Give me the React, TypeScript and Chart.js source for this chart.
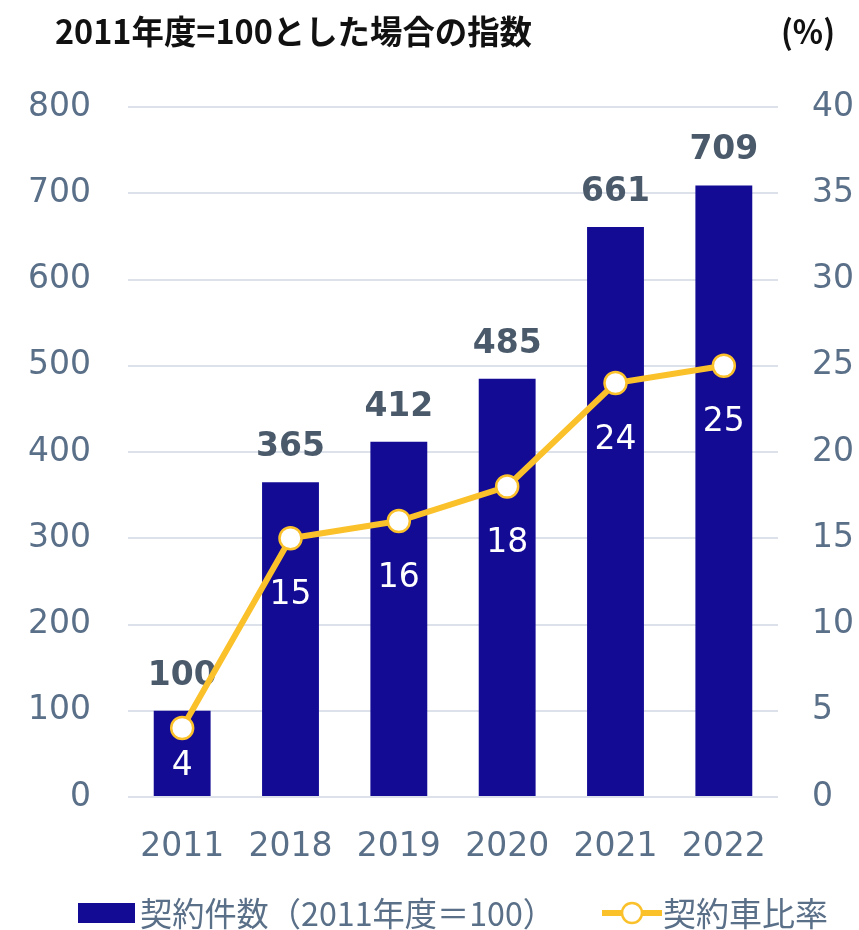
import React, { useEffect, useRef } from "react";
import { Chart, registerables } from "chart.js";

Chart.register(...registerables);

const categories = ["2011", "2018", "2019", "2020", "2021", "2022"];
const contractIndex = [100, 365, 412, 485, 661, 709];
const vehicleRatio = [4, 15, 16, 18, 24, 25];
const leftTitle = "2011年度=100とした場合の指数";
const rightTitle = "(%)";
const barLabel = "契約件数（2011年度＝100）";
const lineLabel = "契約車比率";

const NAVY = "#130B94";
const YELLOW = "#FBC12B";
const TICK = "#5a6f88";
const LABEL = "#4a5a6b";
const GRID = "#dde1ea";
const NUM_FONT = '"DejaVu Sans", Verdana, sans-serif';
const CJK_FONT = '"Noto Sans CJK JP", "DejaVu Sans", sans-serif';

export default function App() {
  const ref = useRef<HTMLCanvasElement | null>(null);

  useEffect(() => {
    const canvas = ref.current;
    if (!canvas) return;

    const overlay = {
      id: "overlay",
      afterDatasetDraw(chart: any, args: any) {
        if (args.index !== 1) return;
        const ctx = chart.ctx as CanvasRenderingContext2D;
        ctx.save();
        const barMeta = chart.getDatasetMeta(1);
        ctx.font = `bold 33px ${NUM_FONT}`;
        ctx.fillStyle = LABEL;
        ctx.textAlign = "center";
        ctx.textBaseline = "alphabetic";
        barMeta.data.forEach((el: any, i: number) => {
          ctx.fillText(String(contractIndex[i]), el.x, el.y - 26);
        });
        ctx.restore();
      },
      afterDatasetsDraw(chart: any) {
        const ctx = chart.ctx as CanvasRenderingContext2D;
        const area = chart.chartArea;
        ctx.save();
        const lineMeta = chart.getDatasetMeta(0);
        ctx.font = `33px ${NUM_FONT}`;
        ctx.fillStyle = "#ffffff";
        ctx.textAlign = "center";
        ctx.textBaseline = "middle";
        lineMeta.data.forEach((el: any, i: number) => {
          const y = Math.min(el.y + 57, area.bottom - 31);
          ctx.fillText(String(vehicleRatio[i]), el.x, y);
        });
        ctx.restore();
      },
      afterDraw(chart: any) {
        const ctx = chart.ctx as CanvasRenderingContext2D;
        ctx.save();
        ctx.fillStyle = "#111111";
        ctx.font = `bold 33px ${CJK_FONT}`;
        ctx.textAlign = "left";
        ctx.textBaseline = "middle";
        ctx.fillText(leftTitle, 55, 31, 477);
        ctx.fillText(rightTitle, 781, 31, 54);
        const ly = 913;
        ctx.fillStyle = NAVY;
        ctx.fillRect(78, 903, 57, 20);
        ctx.fillStyle = TICK;
        ctx.font = `33px ${CJK_FONT}`;
        ctx.fillText(barLabel, 140, ly, 415);
        ctx.strokeStyle = YELLOW;
        ctx.lineWidth = 6;
        ctx.beginPath();
        ctx.moveTo(602, ly);
        ctx.lineTo(662, ly);
        ctx.stroke();
        ctx.beginPath();
        ctx.arc(632, ly, 10, 0, Math.PI * 2);
        ctx.fillStyle = "#ffffff";
        ctx.fill();
        ctx.lineWidth = 2.5;
        ctx.stroke();
        ctx.fillStyle = TICK;
        ctx.fillText(lineLabel, 663, ly, 168);
        ctx.restore();
      },
    };

    const chart = new Chart(canvas, {
      type: "bar",
      data: {
        labels: categories,
        datasets: [
          {
            type: "line",
            label: lineLabel,
            data: vehicleRatio,
            yAxisID: "y1",
            borderColor: YELLOW,
            borderWidth: 6,
            pointRadius: 11,
            pointBorderWidth: 2.5,
            pointBackgroundColor: "#ffffff",
            pointBorderColor: YELLOW,
            tension: 0,
            order: 0,
          } as any,
          {
            type: "bar",
            label: barLabel,
            data: contractIndex,
            yAxisID: "y",
            backgroundColor: NAVY,
            categoryPercentage: 1,
            barPercentage: 0.525,
            order: 1,
          },
        ],
      },
      options: {
        animation: false,
        responsive: false,
        maintainAspectRatio: false,
        layout: { padding: { top: 107, left: 0, right: 0, bottom: 0 } },
        plugins: {
          legend: { display: false },
          tooltip: { enabled: false },
        },
        scales: {
          x: {
            grid: { display: false, drawTicks: false },
            border: { display: false },
            ticks: {
              color: TICK,
              font: { family: NUM_FONT, size: 33 },
              padding: 31,
            },
            afterFit(s: any) {
              s.height = 133;
            },
          },
          y: {
            position: "left",
            min: 0,
            max: 800,
            ticks: {
              stepSize: 100,
              color: TICK,
              font: { family: NUM_FONT, size: 33 },
              padding: 37,
            },
            grid: { color: GRID, lineWidth: 2, drawTicks: false },
            border: { display: false },
            afterFit(s: any) {
              s.width = 128;
            },
          },
          y1: {
            position: "right",
            min: 0,
            max: 40,
            ticks: {
              stepSize: 5,
              color: TICK,
              font: { family: NUM_FONT, size: 33 },
              padding: 34,
            },
            grid: { display: false, drawTicks: false },
            border: { display: false },
            afterFit(s: any) {
              s.width = 81;
            },
          },
        },
      },
      plugins: [overlay],
    });

    return () => chart.destroy();
  }, []);

  return (
    <div style={{ position: "absolute", left: 0, top: 0, width: 859, height: 930 }}>
      <canvas ref={ref} width={859} height={930} style={{ width: 859, height: 930 }} />
    </div>
  );
}
